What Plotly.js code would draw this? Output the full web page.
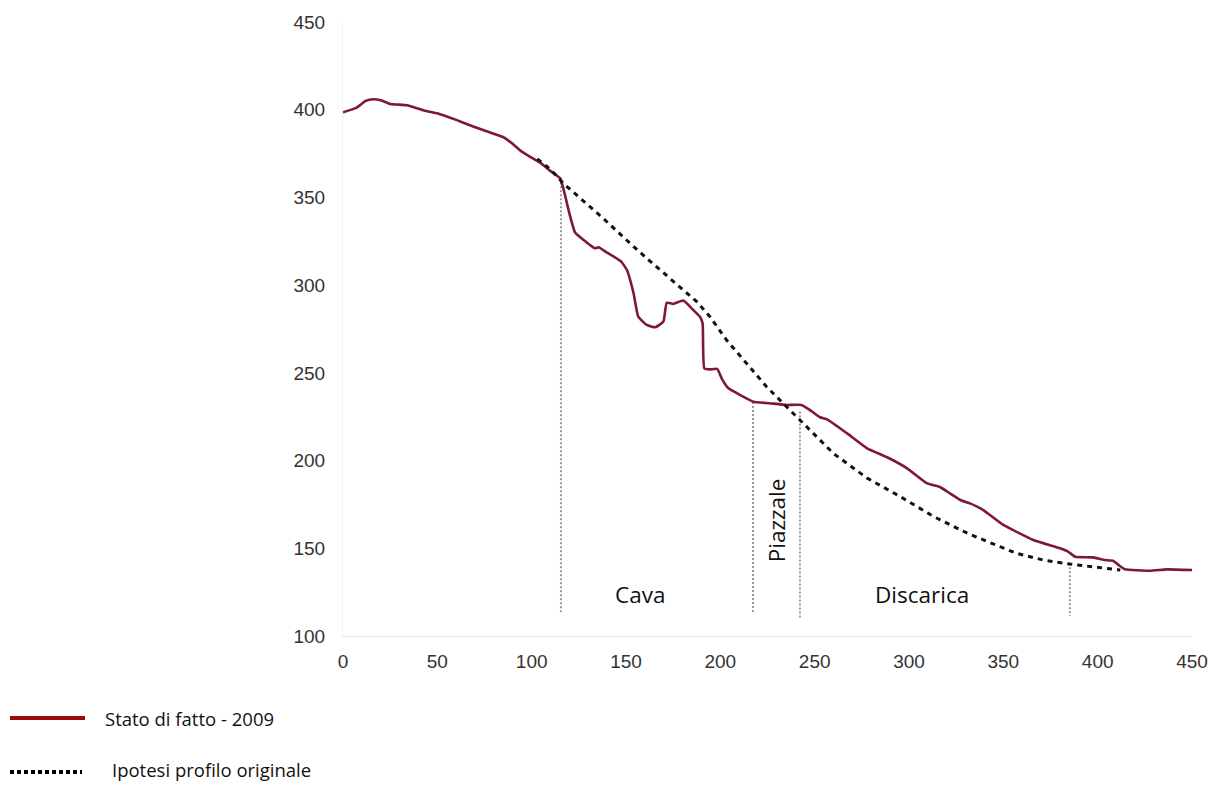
<!DOCTYPE html>
<html>
<head>
<meta charset="utf-8">
<script src="https://cdn.plot.ly/plotly-3.0.1.min.js"></script>
<style>html,body{margin:0;padding:0;background:#fff;}#chart{width:1223px;height:785px;}</style>
</head>
<body>
<div id="chart"></div>
<script>
// Stato di fatto - 2009
var statoX = [0,7,12,16,20.5,25,34,43,51,60,69,78,85,89.5,94,99,104.5,110,115,117,119.5,123,129,133.6,135.5,140,143.5,147.5,150.5,154,156.5,161,165.5,169.8,171.6,175,180.4,185.7,189.2,190.6,191.5,194.5,198.4,200.7,204.3,210.5,217.5,226,235,243,247.5,252.8,256.6,267.2,277.8,288.4,299,309.6,316.6,321.7,327.2,332.3,336.1,339.4,350,365.9,380,384.5,388,397.6,403.8,408.3,411.8,414.5,427.7,436.6,450];
var statoY = [398.5,401,405,406,405.2,403.3,402.5,399.5,397.6,394.2,390.4,387,384.3,380.9,376.7,373.3,369.8,365,361,354.3,343,330,324.5,321,321.6,318.5,316.3,313.4,308.6,295.4,282,277.3,276,279.2,290,289.3,291.2,285.8,282,278.3,252.6,252,252.2,246.9,241.2,237.4,233.6,232.7,231.7,231.7,228.8,224.7,223.5,215.5,207,201.9,195.6,187,184.8,181.3,177.5,175.6,173.7,171.8,163.3,154.7,150,148,145.2,144.8,143.3,142.8,139.9,138,137.2,138,137.6];

// Ipotesi profilo originale
var ipotesiX = [103,110,116.8,138,152,161,180.4,187.5,194.5,203.3,213.9,224.5,235.1,244,251,260,277.8,295.5,313.2,330.9,348.2,357,371.2,385.3,399.4,412];
var ipotesiY = [372,366,358,338,324,315.3,297.2,290.6,282,268.7,255.4,242.1,230.7,221.3,213.6,204,190,179.4,168,158.6,150.9,147.1,143.3,141,139.2,137.6];

// Zone separators
var sepX = [115.5, 217.3, 242.2, 385.3];
var sepTop = [361, 233.4, 228, 141.4];
var sepBottom = [113.7, 113.1, 110.3, 111.4];

// Zone labels
var zoneNames = ["Cava", "Piazzale", "Discarica"];
var zoneX = [157.4, 229.5, 306.9];
var zoneY = [123.4, 166, 123.4];
var zoneAngle = [0, -90, 0];

var seriesNames = ["Stato di fatto - 2009", "Ipotesi profilo originale"];

var xTicks = [0,50,100,150,200,250,300,350,400,450];
var yTicks = [100,150,200,250,300,350,400,450];

var W = 1223, H = 785;
var mL = 343, mR = 31, mT = 22, mB = 149;
var pw = W - mL - mR, ph = H - mT - mB;
function px(x){ return (x - mL) / pw; }
function py(y){ return (H - mB - y) / ph; }

var traces = [];
for (var i = 0; i < sepX.length; i++) {
  traces.push({
    x: [sepX[i], sepX[i]], y: [sepTop[i], sepBottom[i]],
    mode: 'lines', showlegend: false, hoverinfo: 'skip',
    line: {color: '#9a9a9a', width: 2, dash: '2px,2px'}
  });
}
traces.push({
  x: statoX, y: statoY, name: seriesNames[0], mode: 'lines', showlegend: false,
  line: {color: '#7f1838', width: 2.6, shape: 'spline', smoothing: 0.4}
});
traces.push({
  x: ipotesiX, y: ipotesiY, name: seriesNames[1], mode: 'lines', showlegend: false,
  line: {color: '#111111', width: 3, dash: '5px,5px'}
});

var txtFont = 'Open Sans, sans-serif';
var annotations = [];
for (var j = 0; j < zoneNames.length; j++) {
  annotations.push({
    x: zoneX[j], y: zoneY[j], xref: 'x', yref: 'y', text: zoneNames[j],
    showarrow: false, textangle: zoneAngle[j],
    font: {family: txtFont, size: 22.5, color: '#111'}
  });
}
annotations.push({x: px(103), y: py(718), xref: 'paper', yref: 'paper', xanchor: 'left', yanchor: 'middle',
  text: seriesNames[0], showarrow: false, font: {family: txtFont, size: 18.5, color: '#111'}});
annotations.push({x: px(110), y: py(769), xref: 'paper', yref: 'paper', xanchor: 'left', yanchor: 'middle',
  text: seriesNames[1], showarrow: false, font: {family: txtFont, size: 18.5, color: '#111'}});

var shapes = [
  {type: 'line', xref: 'paper', yref: 'paper', x0: px(10), x1: px(85), y0: py(718), y1: py(718),
   line: {color: '#9b0a0a', width: 4}},
  {type: 'line', xref: 'paper', yref: 'paper', x0: px(10), x1: px(82), y0: py(772), y1: py(772),
   line: {color: '#000', width: 4, dash: '4px,3px'}}
];

var tickFont = {family: 'Liberation Sans, Arial, sans-serif', size: 19, color: '#333'};
var layout = {
  width: W, height: H,
  margin: {l: mL, r: mR, t: mT, b: mB},
  paper_bgcolor: '#fff', plot_bgcolor: '#fff',
  showlegend: false,
  xaxis: {
    range: [0, 450], tickvals: xTicks, showgrid: false, zeroline: false,
    showline: true, linecolor: '#e6e6e6', linewidth: 1,
    ticks: 'outside', ticklen: 8, tickcolor: 'rgba(0,0,0,0)',
    tickfont: tickFont
  },
  yaxis: {
    range: [100, 450], tickvals: yTicks, showgrid: false, zeroline: false,
    showline: true, linecolor: '#f0f0f0', linewidth: 1,
    ticks: 'outside', ticklen: 13, tickcolor: 'rgba(0,0,0,0)',
    tickfont: tickFont
  },
  annotations: annotations,
  shapes: shapes
};

Plotly.newPlot('chart', traces, layout, {displayModeBar: false, staticPlot: true});
</script>
</body>
</html>
